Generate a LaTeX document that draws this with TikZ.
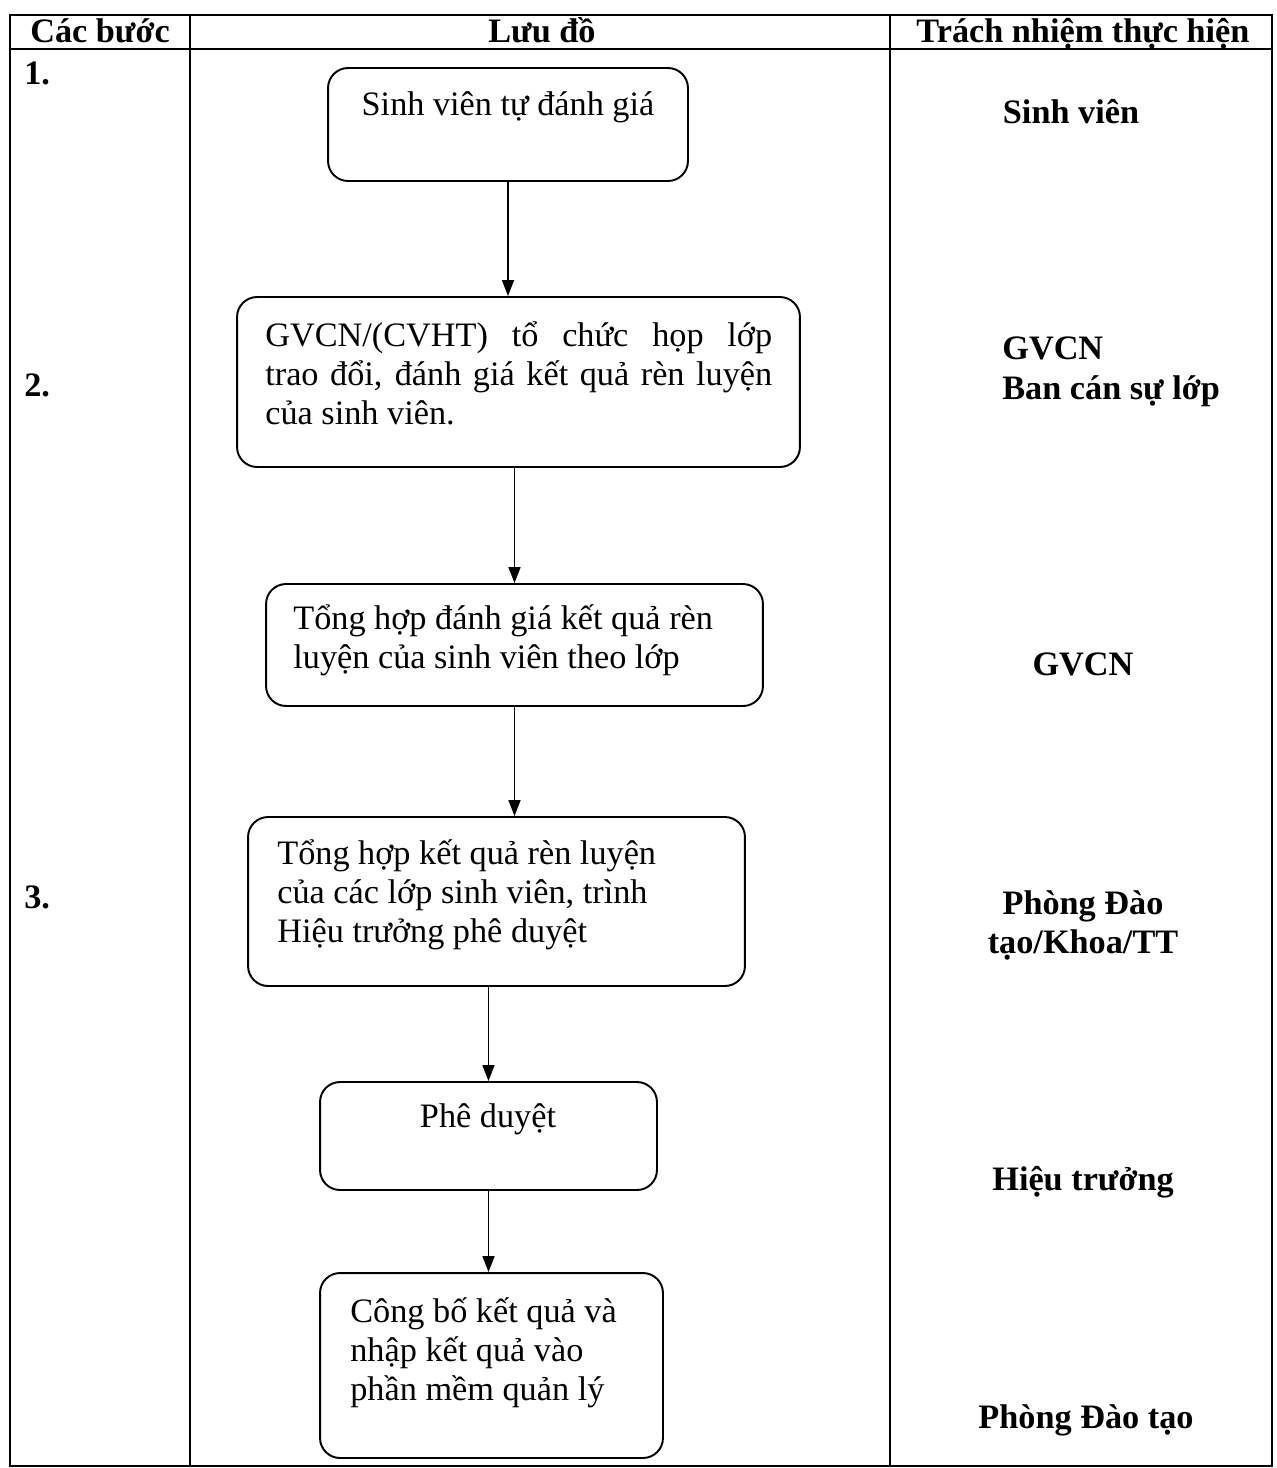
\documentclass[tikz,border=0pt]{standalone}
\usepackage{fontspec}
\setmainfont{Liberation Serif}
\usepackage{tikz}
\usetikzlibrary{arrows.meta,positioning}
\tikzstyle{tableline} = [line width=1.1pt]
\tikzstyle{flowbox} = [rectangle, rounded corners=0.4cm, draw=black, line width=1.1pt]
\tikzstyle{boxtext} = [inner sep=0pt, anchor=base west, align=flush left, font=\fontsize{19.5}{22.3}\selectfont]
\tikzstyle{headtext} = [inner sep=0pt, anchor=base, font=\fontsize{19.5}{22.3}\selectfont\bfseries]
\tikzstyle{flowarrow} = [line width=0.9pt, -{Triangle[length=0.32cm,width=0.24cm]}]

\begin{document}
\begin{tikzpicture}[x=0.02cm, y=-0.02cm]
    \useasboundingbox (0,0) rectangle (1276,1468);

    % Table frame
    \draw[tableline] (10,15) rectangle (1272,1466);
    \draw[tableline] (10,49) -- (1272,49);
    \draw[tableline] (190,15) -- (190,1466);
    \draw[tableline] (890,15) -- (890,1466);

    % Header row
    \node[headtext] (hstep) at (100,42) {Các bước};
    \node[headtext] (hflow) at (542,42) {Lưu đồ};
    \node[headtext] (hresp) at (1083,42) {Trách nhiệm thực hiện};

    % Step numbers
    \node[headtext, anchor=base west] (s1) at (24,84) {1.};
    \node[headtext, anchor=base west] (s2) at (24,396) {2.};
    \node[headtext, anchor=base west] (s3) at (24,908) {3.};

    % Flow boxes
    \node[flowbox, minimum width=7.2cm, minimum height=2.26cm] (b1) at (508,124.5) {};
    \node[flowbox, minimum width=11.26cm, minimum height=3.4cm] (b2) at (518.5,382) {};
    \node[flowbox, minimum width=9.94cm, minimum height=2.44cm] (b3) at (514.5,645) {};
    \node[flowbox, minimum width=9.94cm, minimum height=3.38cm] (b4) at (496.5,901.5) {};
    \node[flowbox, minimum width=6.74cm, minimum height=2.16cm] (b5) at (488.5,1136) {};
    \node[flowbox, minimum width=6.86cm, minimum height=3.7cm] (b6) at (491.5,1365.5) {};

    % Box texts
    \node[boxtext, anchor=base] (t1) at (508,115) {Sinh viên tự đánh giá};
    \node[boxtext, text width=10.14cm, align=justify] (t2) at (265,346) {GVCN/(CVHT) tổ chức họp lớp\linebreak trao đổi, đánh giá kết quả rèn luyện\linebreak của sinh viên.};
    \node[boxtext, text width=9cm] (t3) at (293,629) {Tổng hợp đánh giá kết quả rèn\\luyện của sinh viên theo lớp};
    \node[boxtext, text width=8.8cm] (t4) at (277,864) {Tổng hợp kết quả rèn luyện\\của các lớp sinh viên, trình\\Hiệu trưởng phê duyệt};
    \node[boxtext, anchor=base] (t5) at (488,1127) {Phê duyệt};
    \node[boxtext, text width=6cm] (t6) at (350,1322) {Công bố kết quả và\\nhập kết quả vào\\phần mềm quản lý};

    % Responsibilities
    \node[headtext] (r1) at (1071,123) {Sinh viên};
    \node[headtext, text width=5.4cm, align=flush left, anchor=base west] (r2) at (1002,359) {GVCN\\[1pt]Ban cán sự lớp};
    \node[headtext] (r3) at (1083,675) {GVCN};
    \node[headtext, text width=5cm, align=flush center] (r4) at (1083,914) {Phòng Đào\\tạo/Khoa/TT};
    \node[headtext] (r5) at (1083,1190) {Hiệu trưởng};
    \node[headtext] (r6) at (1086,1428) {Phòng Đào tạo};

    % Connections
    \draw[flowarrow] (b1.south) -- (b1.south |- b2.north);
    \draw[flowarrow] (b3.north |- b2.south) -- (b3.north);
    \draw[flowarrow] (b3.south) -- (b3.south |- b4.north);
    \draw[flowarrow] (b5.north |- b4.south) -- (b5.north);
    \draw[flowarrow] (b5.south) -- (b5.south |- b6.north);
\end{tikzpicture}
\end{document}
